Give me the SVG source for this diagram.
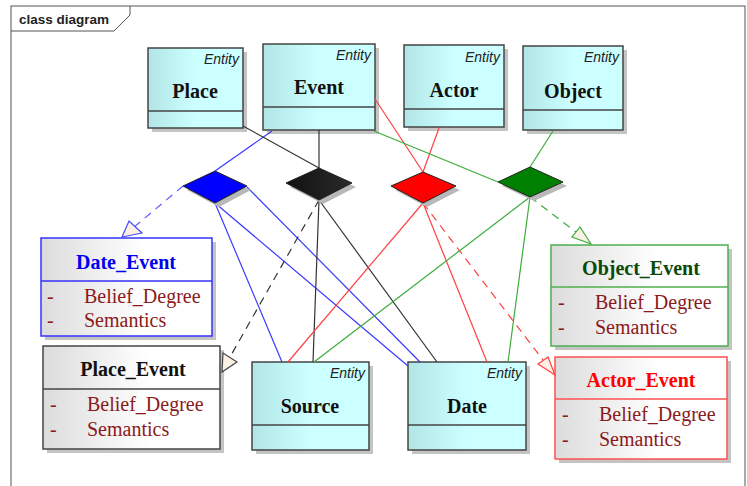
<svg xmlns="http://www.w3.org/2000/svg" width="747" height="486" viewBox="0 0 747 486">
<defs>
<linearGradient id="gEnt" x1="0" y1="0" x2="1" y2="0">
<stop offset="0" stop-color="#b2e6e6"/><stop offset="0.5" stop-color="#ccffff"/><stop offset="1" stop-color="#ccffff"/>
</linearGradient>
<linearGradient id="gCls" x1="0" y1="0" x2="1" y2="0">
<stop offset="0" stop-color="#dcdcdc"/><stop offset="0.6" stop-color="#ffffff"/><stop offset="1" stop-color="#ffffff"/>
</linearGradient>
<linearGradient id="gBlk" x1="0" y1="0" x2="1" y2="0">
<stop offset="0" stop-color="#111"/><stop offset="1" stop-color="#2a2a2a"/>
</linearGradient>
</defs>
<style>
.frame{fill:none;stroke:#555;stroke-width:1}
.shadow{fill:#c4c4c4}
.ent{fill:url(#gEnt);stroke:#444;stroke-width:1.5}
.cls{fill:url(#gCls);stroke-width:1.5}
.div{stroke-width:1.5}
.stereo{font-family:"Liberation Sans",Arial,sans-serif;font-style:italic;font-size:14px;fill:#222;text-anchor:end}
.name{font-family:"Liberation Serif","Times New Roman",serif;font-weight:bold;font-size:20px;fill:#111;text-anchor:middle}
.attr{font-family:"Liberation Serif","Times New Roman",serif;font-size:20px;fill:#8b1a1a}
.title{font-family:"Liberation Sans",Arial,sans-serif;font-weight:bold;font-size:13.5px;fill:#222}
.ln{fill:none;stroke-width:1.2}
.dash{stroke-dasharray:8,6}
.arrow{fill:#faf0e4;stroke-width:1.2}
.dshadow{fill:#b8b8b8}
.dm{stroke:#222;stroke-width:1}
</style>
<rect width="747" height="486" fill="#ffffff"/>
<g id="frame">
<rect class="frame" x="11" y="6" width="734" height="490"/>
<polyline class="frame" points="11,31 114,31 130,15 130,6"/>
<text class="title" x="19" y="24">class diagram</text>
</g>
<g id="Place">
<rect class="shadow" x="152" y="52" width="95" height="80"/>
<rect class="ent" x="148" y="48" width="95" height="80"/>
<line class="div" stroke="#444" x1="148" y1="111" x2="243" y2="111"/>
<text class="stereo" x="239" y="64">Entity</text>
<text class="name" x="195" y="98">Place</text>
</g>
<g id="Event">
<rect class="shadow" x="267" y="48" width="112" height="86"/>
<rect class="ent" x="263" y="44" width="112" height="86"/>
<line class="div" stroke="#444" x1="263" y1="107" x2="375" y2="107"/>
<text class="stereo" x="371" y="60">Entity</text>
<text class="name" x="319" y="94">Event</text>
</g>
<g id="Actor">
<rect class="shadow" x="408" y="49" width="100" height="82"/>
<rect class="ent" x="404" y="45" width="100" height="82"/>
<line class="div" stroke="#444" x1="404" y1="109" x2="504" y2="109"/>
<text class="stereo" x="500" y="62">Entity</text>
<text class="name" x="454" y="97">Actor</text>
</g>
<g id="Object">
<rect class="shadow" x="527" y="50" width="100" height="84"/>
<rect class="ent" x="523" y="46" width="100" height="84"/>
<line class="div" stroke="#444" x1="523" y1="110" x2="623" y2="110"/>
<text class="stereo" x="619" y="62">Entity</text>
<text class="name" x="573" y="98">Object</text>
</g>
<g id="Source">
<rect class="shadow" x="256" y="366" width="117" height="88"/>
<rect class="ent" x="252" y="362" width="117" height="88"/>
<line class="div" stroke="#444" x1="252" y1="425" x2="369" y2="425"/>
<text class="stereo" x="365" y="378">Entity</text>
<text class="name" x="310" y="413">Source</text>
</g>
<g id="Date">
<rect class="shadow" x="412" y="366" width="118" height="88"/>
<rect class="ent" x="408" y="362" width="118" height="88"/>
<line class="div" stroke="#444" x1="408" y1="425" x2="526" y2="425"/>
<text class="stereo" x="522" y="378">Entity</text>
<text class="name" x="467" y="413">Date</text>
</g>
<g id="Date_Event">
<rect class="shadow" x="45" y="242" width="171" height="98"/>
<rect class="cls" stroke="#3333ff" x="41" y="238" width="171" height="98"/>
<line class="div" stroke="#3333ff" x1="41" y1="281" x2="212" y2="281"/>
<text class="name" style="fill:#0000ee" x="126" y="269">Date_Event</text>
<text class="attr" x="47" y="303">-</text>
<text class="attr" x="84" y="303">Belief_Degree</text>
<text class="attr" x="47" y="327">-</text>
<text class="attr" x="84" y="327">Semantics</text>
</g>
<g id="Place_Event">
<rect class="shadow" x="47" y="350" width="177" height="103"/>
<rect class="cls" stroke="#444" x="43" y="346" width="177" height="103"/>
<line class="div" stroke="#444" x1="43" y1="389" x2="220" y2="389"/>
<text class="name" x="133" y="376">Place_Event</text>
<text class="attr" x="50" y="411">-</text>
<text class="attr" x="87" y="411">Belief_Degree</text>
<text class="attr" x="50" y="436">-</text>
<text class="attr" x="87" y="436">Semantics</text>
</g>
<g id="Object_Event">
<rect class="shadow" x="555" y="249" width="177" height="101"/>
<rect class="cls" stroke="#4caf50" x="551" y="245" width="177" height="101"/>
<line class="div" stroke="#4caf50" x1="551" y1="287" x2="728" y2="287"/>
<text class="name" style="fill:#0a4a0a" x="641" y="275">Object_Event</text>
<text class="attr" x="558" y="309">-</text>
<text class="attr" x="595" y="309">Belief_Degree</text>
<text class="attr" x="558" y="334">-</text>
<text class="attr" x="595" y="334">Semantics</text>
</g>
<g id="Actor_Event">
<rect class="shadow" x="559" y="361" width="172" height="102"/>
<rect class="cls" stroke="#ff5050" x="555" y="357" width="172" height="102"/>
<line class="div" stroke="#ff5050" x1="555" y1="399" x2="727" y2="399"/>
<text class="name" style="fill:#ff0000" x="641" y="387">Actor_Event</text>
<text class="attr" x="562" y="421">-</text>
<text class="attr" x="599" y="421">Belief_Degree</text>
<text class="attr" x="562" y="446">-</text>
<text class="attr" x="599" y="446">Semantics</text>
</g>
<g id="connectors">
<line class="ln" stroke="#3a3aff" x1="272" y1="131" x2="215" y2="171"/>
<line class="ln" stroke="#3a3aff" x1="215" y1="203" x2="282" y2="362"/>
<line class="ln" stroke="#3a3aff" x1="215" y1="203" x2="408" y2="366"/>
<line class="ln" stroke="#3a3aff" x1="247" y1="187" x2="420" y2="362"/>
<line class="ln dash" stroke="#5a5aff" x1="183" y1="186" x2="133" y2="228"/>
<polygon class="arrow" stroke="#4a4aff" points="122,237 129,221 142,233"/>
<line class="ln" stroke="#333" x1="243" y1="126" x2="319" y2="168"/>
<line class="ln" stroke="#333" x1="319" y1="130" x2="319" y2="168"/>
<line class="ln" stroke="#333" x1="319" y1="200" x2="313" y2="362"/>
<line class="ln" stroke="#333" x1="319" y1="200" x2="437" y2="362"/>
<line class="ln dash" stroke="#333" x1="319" y1="200" x2="230" y2="357"/>
<polygon class="arrow" stroke="#444" points="222,372 223,353 237,362"/>
<line class="ln" stroke="#ff4040" x1="375" y1="99" x2="423" y2="172"/>
<line class="ln" stroke="#ff4040" x1="439" y1="128" x2="423" y2="172"/>
<line class="ln" stroke="#ff4040" x1="423" y1="203" x2="288" y2="362"/>
<line class="ln" stroke="#ff4040" x1="423" y1="203" x2="487" y2="362"/>
<line class="ln dash" stroke="#ff4040" x1="423" y1="203" x2="543" y2="360"/>
<polygon class="arrow" stroke="#ff4040" points="555,375 538,364 548,357"/>
<line class="ln" stroke="#3cac3c" x1="374" y1="131" x2="498" y2="182"/>
<line class="ln" stroke="#3cac3c" x1="553" y1="131" x2="530" y2="167"/>
<line class="ln" stroke="#3cac3c" x1="530" y1="197" x2="314" y2="362"/>
<line class="ln" stroke="#3cac3c" x1="530" y1="197" x2="508" y2="362"/>
<line class="ln dash" stroke="#3cac3c" x1="530" y1="197" x2="576" y2="232"/>
<polygon class="arrow" stroke="#3cac3c" points="591,244 572,237 580,227"/>
</g>
<g id="diamonds">
<polygon class="dshadow" points="187,190 219,175 251,190 219,207"/>
<polygon class="dm" fill="#0000ff" points="183,186 215,171 247,186 215,203"/>
<polygon class="dshadow" points="290,187 323,172 356,187 323,204"/>
<polygon class="dm" fill="url(#gBlk)" points="286,183 319,168 352,183 319,200"/>
<polygon class="dshadow" points="395,190 427,176 460,190 427,207"/>
<polygon class="dm" fill="#ff0000" points="391,186 423,172 456,186 423,203"/>
<polygon class="dshadow" points="502,186 534,171 567,186 534,201"/>
<polygon class="dm" fill="#008000" points="498,182 530,167 563,182 530,197"/>
</g>
</svg>
